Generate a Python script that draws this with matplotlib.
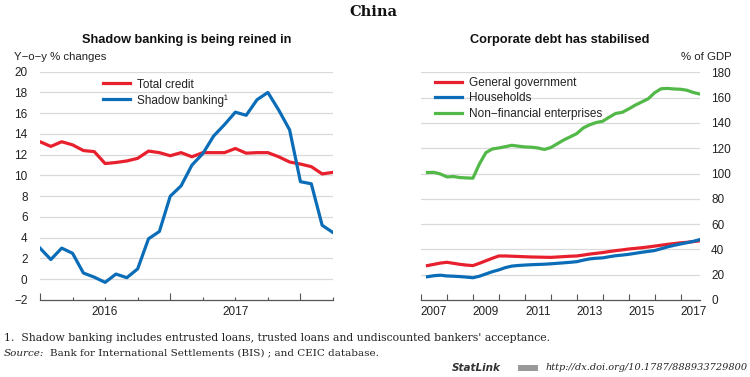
import matplotlib
matplotlib.use("Agg")
import matplotlib.pyplot as plt
import numpy as np
from matplotlib.patches import Rectangle
from matplotlib.transforms import blended_transform_factory

plt.rcParams["font.family"] = ["Liberation Sans", "DejaVu Sans"]

# === DATA ===
# Left panel: monthly, Jan 2016 onwards (y-o-y % changes)
months_start = 2016.0
total_credit = [13.25, 12.8, 13.25, 12.95, 12.4, 12.3, 11.15, 11.25, 11.4, 11.65,
                12.35, 12.2, 11.9, 12.2, 11.8, 12.2, 12.2, 12.2, 12.6, 12.15,
                12.2, 12.2, 11.8, 11.3, 11.1, 10.85, 10.15, 10.3]
shadow_banking = [3.0, 1.9, 3.0, 2.5, 0.6, 0.2, -0.3, 0.5, 0.15, 1.0,
                  3.9, 4.6, 8.0, 9.0, 11.0, 12.1, 13.8, 14.9, 16.1, 15.8,
                  17.3, 18.0, 16.3, 14.4, 9.4, 9.2, 5.2, 4.5]

# Right panel: quarterly, % of GDP
quarters_start = 2007.25
general_government = [27.2, 28.2, 29.2, 29.8, 29.0, 28.2, 27.6, 27.2, 29.0, 31.0,
                      33.0, 34.8, 34.8, 34.6, 34.4, 34.2, 34.0, 33.9, 33.8, 33.7,
                      34.0, 34.3, 34.6, 34.8, 35.5, 36.3, 36.9, 37.5, 38.3, 39.0,
                      39.6, 40.3, 40.8, 41.3, 41.9, 42.6, 43.3, 44.0, 44.6, 45.2,
                      45.6, 46.2, 46.8]
households = [18.4, 19.2, 19.6, 19.0, 18.8, 18.5, 18.1, 17.6, 18.8, 20.6,
              22.4, 23.8, 25.6, 26.8, 27.3, 27.6, 27.9, 28.1, 28.3, 28.6,
              29.0, 29.4, 29.8, 30.3, 31.5, 32.5, 33.0, 33.3, 34.2, 35.0,
              35.5, 36.1, 36.9, 37.7, 38.4, 39.1, 40.5, 42.0, 43.2, 44.3,
              45.3, 46.4, 47.8]
non_financial = [100.8, 100.9, 99.6, 97.3, 97.6, 96.8, 96.5, 96.3, 107.5, 116.5,
                 119.4, 120.2, 121.2, 122.3, 121.6, 121.0, 120.8, 120.2, 119.0, 120.5,
                 123.5, 126.5, 129.0, 131.5, 136.0, 138.5, 140.3, 141.3, 144.5, 147.5,
                 148.3, 151.0, 154.0, 156.5, 159.0, 163.8, 167.0, 167.3, 166.8, 166.6,
                 165.8, 164.0, 162.8]

left_year_labels = ["2016", "2017"]
right_year_labels = ["2007", "2009", "2011", "2013", "2015", "2017"]

RED = "#E8202D"
BLUE = "#0B6DB7"
GREEN = "#52B848"
GRID = "#DADADA"
AXIS = "#555555"
TEXT = "#222222"

x_left = months_start + np.arange(len(total_credit)) / 12
x_right = quarters_start + np.arange(len(non_financial)) * 0.25

fig = plt.figure(figsize=(7.5, 3.77), dpi=100)
ax1 = fig.add_axes([40 / 750, 1 - 300 / 377, 293 / 750, 228.3 / 377])
ax2 = fig.add_axes([421 / 750, 1 - 300 / 377, 279 / 750, 227.7 / 377])

# === LEFT PANEL ===
ax1.plot(x_left, total_credit, color=RED, lw=2.3, label="Total credit", zorder=3)
ax1.plot(x_left, shadow_banking, color=BLUE, lw=2.3, label="Shadow banking¹", zorder=3)
ax1.set_xlim(2016, 2018.25)
ax1.set_ylim(-2, 20)
ax1.set_yticks(np.arange(-2, 21, 2))
for y in np.arange(0, 21, 2):
    ax1.axhline(y, color=GRID, lw=0.9, zorder=1)
ax1.set_xticks([2016, 2017, 2018])
ax1.set_xticklabels([])
ax1.set_xticks(np.arange(2016, 2018.3, 0.25), minor=True)
ax1.tick_params(axis="x", which="major", direction="in", length=5, color=AXIS, width=0.8)
ax1.tick_params(axis="x", which="minor", direction="in", length=2.5, color=AXIS, width=0.8)
ax1.tick_params(axis="y", length=0, pad=9, labelsize=8.5, labelcolor=TEXT)
tr1 = blended_transform_factory(ax1.transData, ax1.transAxes)
for i, lab in enumerate(left_year_labels):
    ax1.text(2016.5 + i, -0.025, lab, transform=tr1, ha="center", va="top",
             fontsize=8.5, color=TEXT)
for s in ["top", "left", "right"]:
    ax1.spines[s].set_visible(False)
ax1.spines["bottom"].set_color(AXIS)
ax1.spines["bottom"].set_linewidth(0.9)
ax1.legend(loc="upper left", bbox_to_anchor=(0.215, 0.97), frameon=False,
           fontsize=8.5, handlelength=2.3, handletextpad=0.6, labelspacing=0.3,
           borderpad=0, borderaxespad=0, labelcolor=TEXT)

# === RIGHT PANEL ===
ax2.plot(x_right, general_government, color=RED, lw=2.3, label="General government", zorder=3)
ax2.plot(x_right, households, color=BLUE, lw=2.3, label="Households", zorder=3)
ax2.plot(x_right, non_financial, color=GREEN, lw=2.3, label="Non\u2212financial enterprises", zorder=3)
ax2.set_xlim(2007, 2017.75)
ax2.set_ylim(0, 180)
ax2.yaxis.tick_right()
ax2.set_yticks(np.arange(0, 181, 20))
for y in np.arange(20, 181, 20):
    ax2.axhline(y, color=GRID, lw=0.9, zorder=1)
ax2.set_xticks(np.arange(2007, 2018))
ax2.set_xticklabels([])
ax2.tick_params(axis="x", direction="in", length=4, color=AXIS, width=0.8)
ax2.tick_params(axis="y", length=0, pad=8, labelsize=8.5, labelcolor=TEXT)
tr2 = blended_transform_factory(ax2.transData, ax2.transAxes)
for lab in right_year_labels:
    ax2.text(int(lab) + 0.5, -0.025, lab, transform=tr2, ha="center", va="top",
             fontsize=8.5, color=TEXT)
for s in ["top", "left", "right"]:
    ax2.spines[s].set_visible(False)
ax2.spines["bottom"].set_color(AXIS)
ax2.spines["bottom"].set_linewidth(0.9)
ax2.legend(loc="upper left", bbox_to_anchor=(0.05, 0.98), frameon=False,
           fontsize=8.5, handlelength=2.3, handletextpad=0.6, labelspacing=0.3,
           borderpad=0, borderaxespad=0, labelcolor=TEXT)

# === TITLES & NOTES ===
fig.text(373 / 750, 1 - 12 / 377, "China", ha="center", va="center",
         fontsize=10.5, fontweight="bold", family="DejaVu Serif", color="#111111")
fig.text(187 / 750, 1 - 40 / 377, "Shadow banking is being reined in", ha="center",
         va="center", fontsize=9.2, fontweight="bold", color="#111111")
fig.text(560 / 750, 1 - 40 / 377, "Corporate debt has stabilised", ha="center",
         va="center", fontsize=9.2, fontweight="bold", color="#111111")
fig.text(14 / 750, 1 - 57 / 377, "Y\u2212o\u2212y % changes", ha="left", va="center",
         fontsize=8.2, color=TEXT)
fig.text(732 / 750, 1 - 57 / 377, "% of GDP", ha="right", va="center",
         fontsize=8.2, color=TEXT)

fig.text(4 / 750, 1 - 338 / 377,
         "1.  Shadow banking includes entrusted loans, trusted loans and undiscounted bankers' acceptance.",
         ha="left", va="center", fontsize=7.8, family="DejaVu Serif", color=TEXT)
fig.text(4 / 750, 1 - 353 / 377, "Source:", ha="left", va="center", fontsize=7.5,
         family="DejaVu Serif", style="italic", color=TEXT)
fig.text(50 / 750, 1 - 353 / 377, "Bank for International Settlements (BIS) ; and CEIC database.",
         ha="left", va="center", fontsize=7.5, family="DejaVu Serif", color=TEXT)
fig.text(452 / 750, 1 - 368 / 377, "StatLink", ha="left", va="center", fontsize=7.5,
         fontweight="bold", style="italic", family="DejaVu Sans", color="#333333")
fig.patches.append(Rectangle((518 / 750, 1 - 371 / 377), 20 / 750, 6 / 377,
                             transform=fig.transFigure, facecolor="#999999",
                             edgecolor="none"))
fig.text(748 / 750, 1 - 368 / 377, "http://dx.doi.org/10.1787/888933729800",
         ha="right", va="center", fontsize=7, family="DejaVu Serif",
         style="italic", color=TEXT)

fig.savefig("out.png", dpi=100)
